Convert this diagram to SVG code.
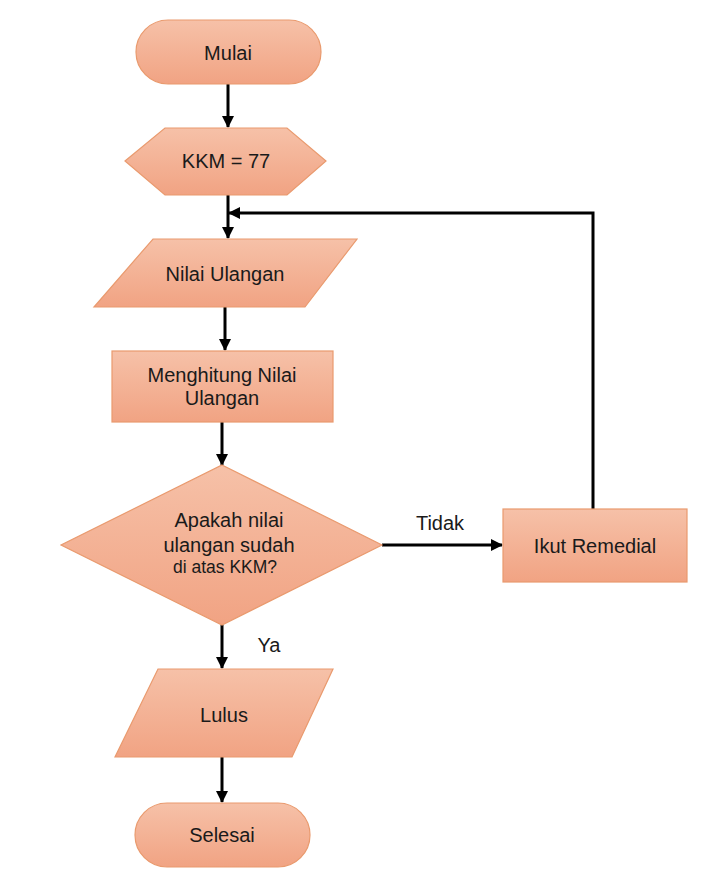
<svg xmlns="http://www.w3.org/2000/svg" width="721" height="894" viewBox="0 0 721 894">
<defs>
<linearGradient id="g" x1="0" y1="0" x2="0" y2="1">
<stop offset="0" stop-color="#f6c1a8"/>
<stop offset="1" stop-color="#f1a383"/>
</linearGradient>
<marker id="ah" markerWidth="12" markerHeight="12" refX="11" refY="6" orient="auto" markerUnits="userSpaceOnUse">
<path d="M0,0 L12,6 L0,12 z" fill="#000"/>
</marker>
<style>
.s{fill:url(#g);stroke:#e99a6e;stroke-width:1.2}
.t{font-family:"Liberation Sans",Arial,sans-serif;font-size:20px;fill:#1a1a1a;text-anchor:middle}
.c{fill:none;stroke:#000;stroke-width:3}
</style>
</defs>
<rect width="721" height="894" fill="#fff"/>
<g id="connectors">
<path class="c" d="M228,84 V127" marker-end="url(#ah)"/>
<path class="c" d="M228,195 V238" marker-end="url(#ah)"/>
<path class="c" d="M593,509 V213 H229" marker-end="url(#ah)"/>
<path class="c" d="M225,307 V350" marker-end="url(#ah)"/>
<path class="c" d="M222,422 V465" marker-end="url(#ah)"/>
<path class="c" d="M382,545 H502" marker-end="url(#ah)"/>
<text class="t" x="440" y="530">Tidak</text>
<path class="c" d="M222,625 V668" marker-end="url(#ah)"/>
<text class="t" x="269" y="652">Ya</text>
<path class="c" d="M222,757 V802" marker-end="url(#ah)"/>
</g>
<g id="mulai">
<rect class="s" x="136" y="20" width="185" height="64" rx="32"/>
<text class="t" x="228" y="60">Mulai</text>
</g>
<g id="kkm">
<polygon class="s" points="125,161 165,128 287,128 326,161 287,195 165,195"/>
<text class="t" x="226" y="168">KKM = 77</text>
</g>
<g id="nilai">
<polygon class="s" points="153,239 357,239 305,307 94,307"/>
<text class="t" x="225" y="281">Nilai Ulangan</text>
</g>
<g id="hitung">
<rect class="s" x="112" y="351" width="221" height="71"/>
<text class="t" x="222" y="382">Menghitung Nilai</text>
<text class="t" x="222" y="405">Ulangan</text>
</g>
<g id="keputusan">
<polygon class="s" points="222,465 382,545 222,625 61,545"/>
<text class="t" x="229" y="527">Apakah nilai</text>
<text class="t" x="229" y="552">ulangan sudah</text>
<text class="t" x="225" y="573" style="font-size:17.5px">di atas KKM?</text>
</g>
<g id="remedial">
<rect class="s" x="503" y="509" width="184" height="73"/>
<text class="t" x="595" y="553">Ikut Remedial</text>
</g>
<g id="lulus">
<polygon class="s" points="158,669 333,669 292,757 115,757"/>
<text class="t" x="224" y="722">Lulus</text>
</g>
<g id="selesai">
<rect class="s" x="135" y="803" width="175" height="64" rx="32"/>
<text class="t" x="222" y="842">Selesai</text>
</g>
</svg>
